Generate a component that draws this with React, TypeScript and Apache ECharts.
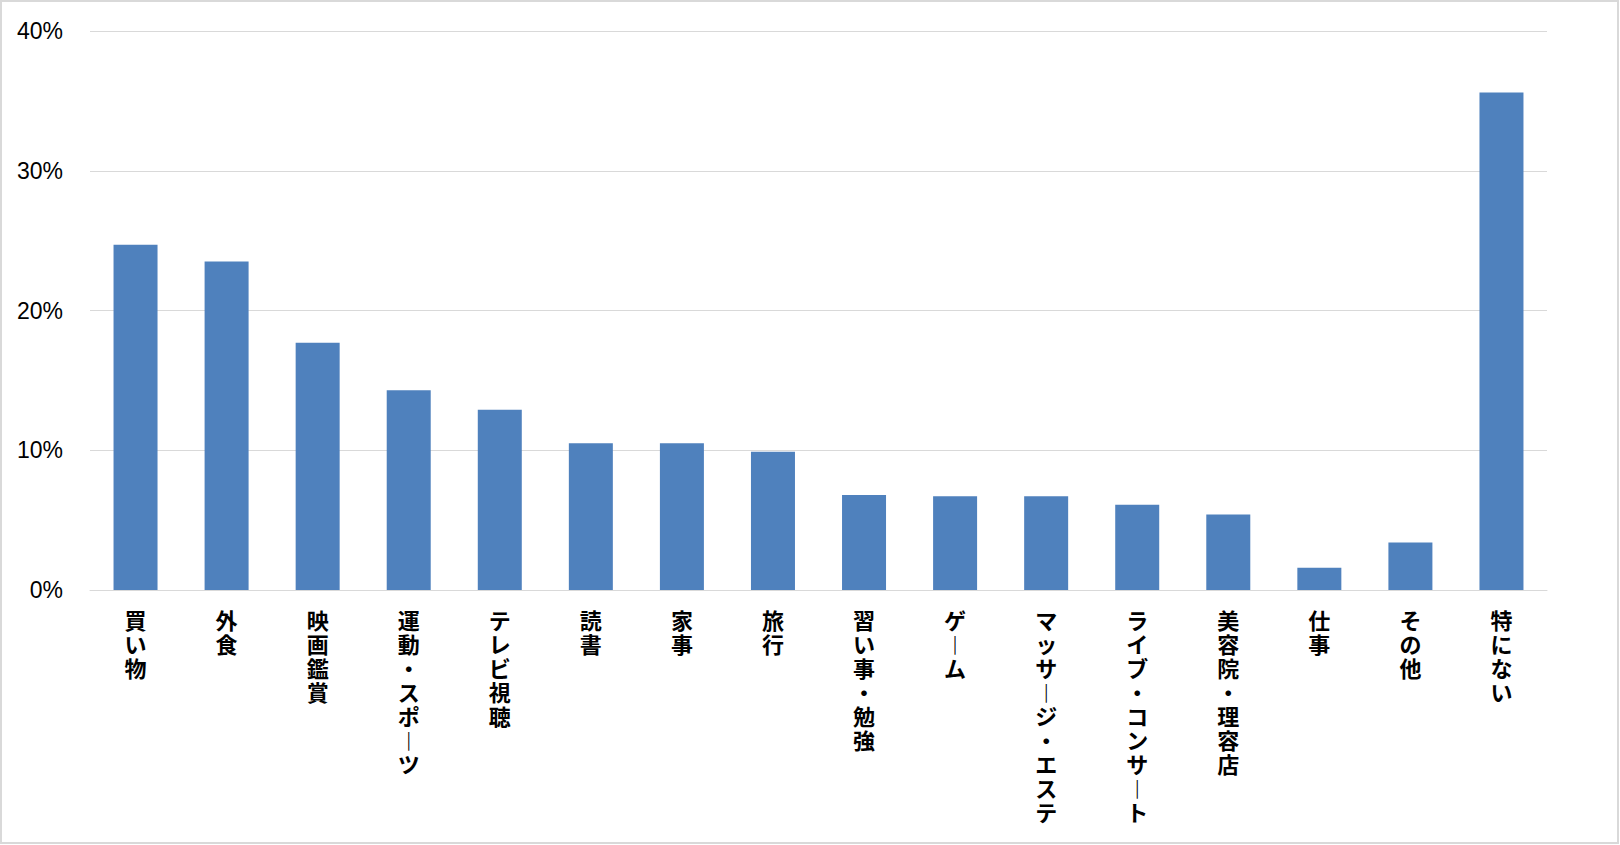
import React, { useEffect, useRef } from "react";
import * as echarts from "echarts";

const categories = [
  "買い物", "外食", "映画鑑賞", "運動・スポーツ", "テレビ視聴", "読書", "家事", "旅行",
  "習い事・勉強", "ゲーム", "マッサージ・エステ", "ライブ・コンサート", "美容院・理容店", "仕事", "その他", "特にない",
];
const values = [24.7, 23.5, 17.7, 14.3, 12.9, 10.5, 10.5, 9.9, 6.8, 6.7, 6.7, 6.1, 5.4, 1.6, 3.4, 35.6];
const yTicks = [0, 10, 20, 30, 40];

function verticalize(s: string): string {
  return Array.from(s)
    .map((c) => (c === "ー" ? "︱" : c))
    .join("\n");
}

export default function App() {
  const ref = useRef<HTMLDivElement>(null);
  useEffect(() => {
    document.body.style.margin = "0";
    const chart = echarts.init(ref.current!, null, { renderer: "svg" });
    chart.setOption({
      animation: false,
      backgroundColor: "#ffffff",
      graphic: [
        {
          type: "rect",
          shape: { x: 1, y: 1, width: 1617, height: 842 },
          style: { fill: "none", stroke: "#d9d9d9", lineWidth: 2 },
          silent: true,
        },
      ],
      grid: {
        left: 90,
        right: 73,
        top: 31,
        bottom: 255,
        containLabel: false,
        outerBoundsMode: "none",
      },
      xAxis: {
        type: "category",
        data: categories,
        axisLine: { lineStyle: { color: "#d9d9d9", width: 1 } },
        axisTick: { show: false },
        axisLabel: {
          interval: 0,
          margin: 17,
          formatter: (v: string) => verticalize(v),
          fontFamily: "Noto Sans CJK JP",
          fontWeight: "bold",
          fontSize: 22,
          lineHeight: 24,
          color: "#000000",
          verticalAlign: "top",
        },
      },
      yAxis: {
        type: "value",
        min: yTicks[0],
        max: yTicks[yTicks.length - 1],
        interval: 10,
        axisLine: { show: false },
        axisTick: { show: false },
        splitLine: { lineStyle: { color: "#d9d9d9", width: 1 } },
        axisLabel: {
          formatter: (v: number) => v + "%",
          fontFamily: "Liberation Sans",
          fontSize: 23,
          color: "#000000",
          margin: 27,
        },
      },
      series: [
        {
          type: "bar",
          data: values,
          barWidth: 44,
          itemStyle: { color: "#4F81BD" },
        },
      ],
    });
    return () => chart.dispose();
  }, []);
  return <div ref={ref} style={{ width: 1620, height: 845 }} />;
}
